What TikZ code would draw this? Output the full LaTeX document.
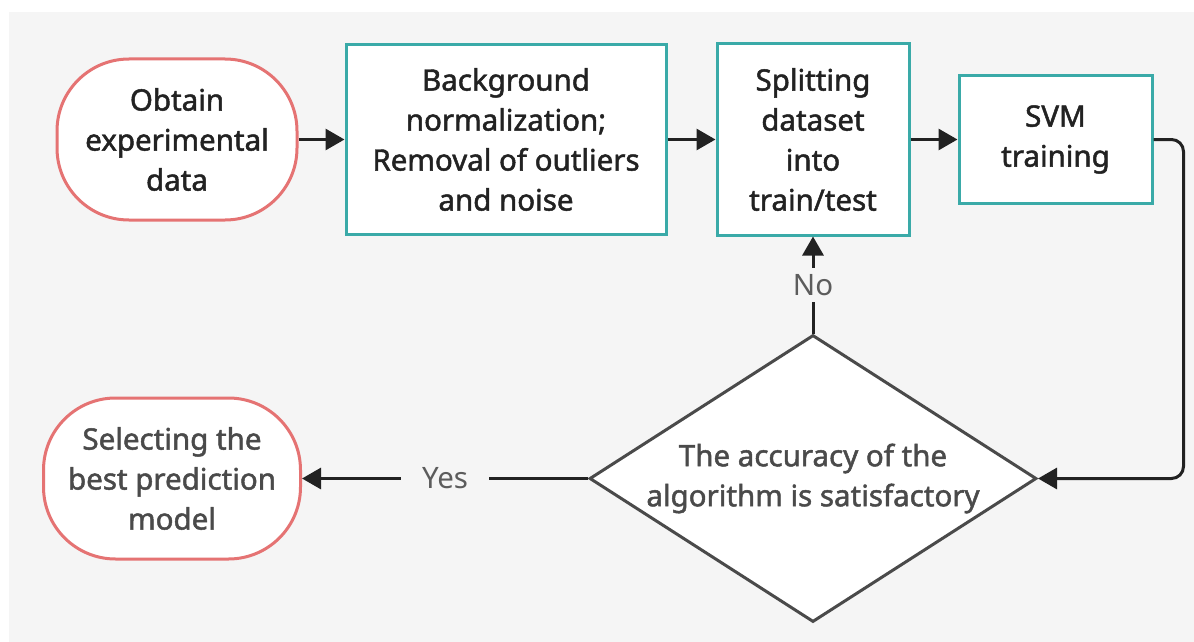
\documentclass[tikz,border=0pt]{standalone}
\usepackage{fontspec}
\setmainfont{Noto Sans}[BoldFont={Noto Sans}, BoldFeatures={FakeBold=1.6}]
\usetikzlibrary{positioning, shapes.geometric, arrows.meta}

\definecolor{bggray}{HTML}{F5F5F5}
\definecolor{tealline}{HTML}{3AAAA8}
\definecolor{salmon}{HTML}{E57373}
\definecolor{darkline}{HTML}{222222}
\definecolor{greytext}{HTML}{4A4A4A}

\begin{document}
\begin{tikzpicture}[x=1pt, y=-1pt,
    font=\fontsize{29.5}{40}\selectfont\bfseries,
    terminal/.style={draw=salmon, line width=3pt, fill=white, rounded corners=72pt,
        minimum width=#1, minimum height=161pt, align=center, inner sep=0pt},
    process/.style={draw=tealline, line width=3pt, fill=white, align=center,
        inner sep=0pt, text=darkline},
    decision/.style={draw=greytext, line width=3pt, fill=white, diamond, aspect=1.557,
        minimum width=447pt, minimum height=287pt, inner sep=0pt},
    flow/.style={draw=darkline, line width=3pt, -{Triangle[length=19pt, width=21pt]}},
    answer/.style={fill=bggray, text=greytext!90!white, inner ysep=6pt,
        font=\fontsize{29.5}{40}\selectfont}]

% canvas
\fill[bggray] (9,12) rectangle (1194,642);
\useasboundingbox (0,0) rectangle (1194,642);

% top row
\node[terminal=240pt, text=darkline] (obtain) at (177,139.5) {Obtain\\experimental\\data};
\node[process, minimum width=320pt, minimum height=190pt, right=46pt of obtain] (clean)
    {Background\\normalization;\\Removal of outliers\\and noise};
\node[process, minimum width=192pt, minimum height=191pt, right=48pt of clean] (split)
    {Splitting\\dataset\\into\\train/test};
\node[process, minimum width=193pt, minimum height=127pt, right=47pt of split] (svm)
    {SVM\\training};

% check and result
\node[decision, below=97pt of split] (check) {};
\node[text=greytext, align=center] (checktext) at (check) {The accuracy of the\\algorithm is satisfactory};
\node[terminal=257pt, text=greytext, left=286pt of check] (best)
    {Selecting the\\best prediction\\model};

\draw[flow] (obtain) -- (clean);
\draw[flow] (clean) -- (split);
\draw[flow] (split) -- (svm);
\draw[flow, rounded corners=12pt] (svm.east) -- ++(30,0) |- (check.east);
\draw[flow] (check.north) -- node[answer, inner xsep=4pt] (no) {No} (split.south);
\draw[flow] (check.west) -- node[answer, inner xsep=21pt] (yes) {Yes} (best.east);
\end{tikzpicture}
\end{document}
